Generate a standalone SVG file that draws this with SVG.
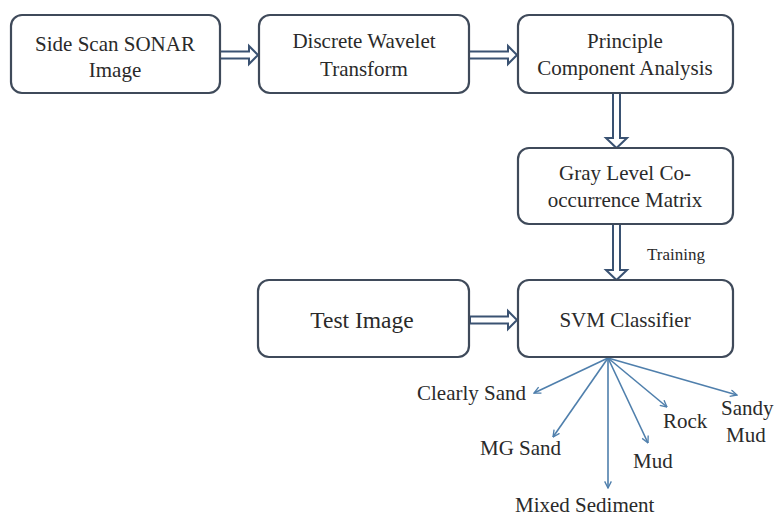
<svg xmlns="http://www.w3.org/2000/svg" width="775" height="519" viewBox="0 0 775 519">
  <defs>
    <style>
      .box { fill: #ffffff; stroke: #3f4a5a; stroke-width: 2.2; }
      .lbl { font-family: "Liberation Serif", "Times New Roman", serif; font-size: 21px; fill: #2a2a2a; }
      .mid { text-anchor: middle; }
      .hollow { fill: #ffffff; stroke: #3a5272; stroke-width: 2; stroke-linejoin: miter; }
      .fan { fill: none; stroke: #4f7fac; stroke-width: 1.6; marker-end: url(#open); }
    </style>
    <marker id="open" viewBox="0 0 12 12" refX="11" refY="6" markerWidth="8" markerHeight="8" markerUnits="userSpaceOnUse" orient="auto">
      <path d="M1,1 L11,6 L1,11" fill="none" stroke="#4f7fac" stroke-width="2"/>
    </marker>
  </defs>
  <rect width="775" height="519" fill="#ffffff"/>

  <g id="connectors">
    <!-- hollow double-line arrows between stages -->
    <path class="hollow" d="M220,51.5 H249 V46 L258,55 L249,64 V58.5 H220 Z"/>
    <path class="hollow" d="M469,51.5 H508 V46 L517,55 L508,64 V58.5 H469 Z"/>
    <path class="hollow" d="M613,93 V138 H606 L616.5,148 L627,138 H620 V93 Z"/>
    <path class="hollow" d="M613,224 V270 H606 L616.5,280 L627,270 H620 V224 Z"/>
    <path class="hollow" d="M470,316.5 H508 V311 L517,320 L508,329 V323.5 H470 Z"/>
    <!-- classifier outputs -->
    <line class="fan" x1="608" y1="358" x2="534" y2="393"/>
    <line class="fan" x1="608" y1="358" x2="553" y2="437"/>
    <line class="fan" x1="608" y1="358" x2="608" y2="488"/>
    <line class="fan" x1="608" y1="358" x2="648" y2="443"/>
    <line class="fan" x1="608" y1="358" x2="667" y2="407"/>
    <line class="fan" x1="608" y1="358" x2="737" y2="395"/>
  </g>

  <g id="sonar">
    <rect class="box" x="11" y="15" width="209" height="78" rx="11"/>
    <text class="lbl mid" x="115" y="51">Side Scan SONAR</text>
    <text class="lbl mid" x="115" y="77">Image</text>
  </g>
  <g id="dwt">
    <rect class="box" x="259" y="15" width="210" height="78" rx="11"/>
    <text class="lbl mid" x="364" y="48">Discrete Wavelet</text>
    <text class="lbl mid" x="364" y="76">Transform</text>
  </g>
  <g id="pca">
    <rect class="box" x="518" y="15" width="215" height="78" rx="11"/>
    <text class="lbl mid" x="625" y="48">Principle</text>
    <text class="lbl mid" x="625" y="75">Component Analysis</text>
  </g>
  <g id="glcm">
    <rect class="box" x="518" y="148" width="215" height="76" rx="11"/>
    <text class="lbl mid" x="625" y="180">Gray Level Co-</text>
    <text class="lbl mid" x="625" y="207">occurrence Matrix</text>
  </g>
  <g id="test">
    <rect class="box" x="258" y="280" width="211" height="77" rx="11"/>
    <text class="lbl mid" x="362" y="328" style="font-size:23.5px">Test Image</text>
  </g>
  <g id="svm">
    <rect class="box" x="518" y="280" width="215" height="77" rx="11"/>
    <text class="lbl mid" x="625" y="327">SVM Classifier</text>
  </g>

  <text class="lbl" x="647" y="260" style="font-size:17px">Training</text>

  <g id="classes">
    <text class="lbl" x="417" y="400">Clearly Sand</text>
    <text class="lbl" x="480" y="455">MG Sand</text>
    <text class="lbl" x="515" y="512">Mixed Sediment</text>
    <text class="lbl" x="633" y="468">Mud</text>
    <text class="lbl" x="663" y="428">Rock</text>
    <text class="lbl" x="721" y="415">Sandy</text>
    <text class="lbl" x="726" y="442">Mud</text>
  </g>
</svg>
